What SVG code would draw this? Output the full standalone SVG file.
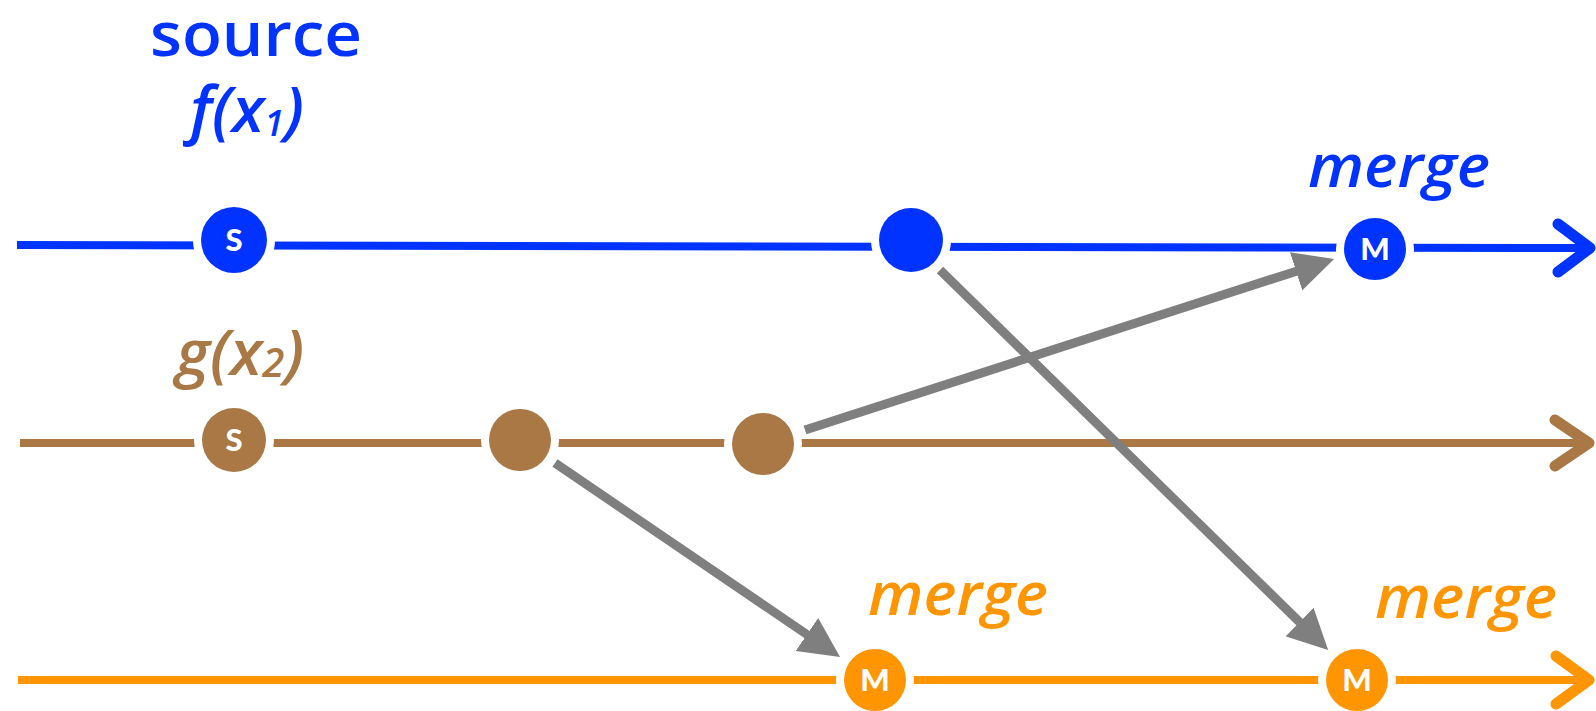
<svg xmlns="http://www.w3.org/2000/svg" width="1596" height="711" viewBox="0 0 1596 711">
  <style>
    .lbl { font-family: "Open Sans", Lato, "Liberation Sans", sans-serif; font-weight: 600; }
    .it { font-style: italic; }
    .blue { fill: #0033ff; }
    .brown { fill: #a97844; }
    .orange { fill: #ff9500; }
    .track { fill: none; stroke-width: 8; stroke-linecap: butt; }
    .head { fill: none; stroke-width: 11; stroke-linecap: round; stroke-linejoin: round; }
    .dot { stroke: #ffffff; stroke-width: 16; paint-order: stroke; }
    .tag { font-family: Lato, "Liberation Sans", sans-serif; font-weight: 900; font-size: 31px; fill: #ffffff; text-anchor: middle; }
    .link { stroke: #7f7f7f; stroke-width: 9; fill: none; marker-end: url(#tip); }
  </style>
  <defs>
    <marker id="tip" viewBox="0 0 40 40" refX="2" refY="20" markerWidth="40" markerHeight="40" markerUnits="userSpaceOnUse" orient="auto">
      <path d="M0,0 L40,20 L0,40 z" fill="#7f7f7f"/>
    </marker>
  </defs>

  <!-- timelines -->
  <g id="timelines">
    <line class="track" x1="17" y1="245" x2="1588" y2="248" stroke="#0033ff"/>
    <polyline class="head" points="1558,224 1590,248 1558,272" stroke="#0033ff"/>
    <line class="track" x1="20" y1="443" x2="1588" y2="443" stroke="#a97844"/>
    <polyline class="head" points="1555,420 1589,443 1555,466" stroke="#a97844"/>
    <line class="track" x1="18" y1="680" x2="1588" y2="680" stroke="#ff9500"/>
    <polyline class="head" points="1556,656 1589,680 1556,704" stroke="#ff9500"/>
  </g>

  <!-- connectors between events -->
  <g id="connectors">
    <line class="link" x1="940" y1="270" x2="1301" y2="623.5"/>
    <line class="link" x1="805" y1="430" x2="1298" y2="270.7"/>
    <line class="link" x1="555" y1="463" x2="808.6" y2="635.6"/>
  </g>

  <!-- labels -->
  <g id="labels">
    <text class="lbl blue" x="256" y="56" font-size="62" text-anchor="middle" textLength="212" lengthAdjust="spacingAndGlyphs">source</text>
    <text class="lbl it blue" x="190" y="132" font-size="64">f(x<tspan font-size="36" dy="4">1</tspan><tspan dy="-4">)</tspan></text>
    <text class="lbl it brown" x="176" y="375" font-size="64">g(x<tspan font-size="40" dy="2">2</tspan><tspan dy="-2">)</tspan></text>
    <text class="lbl it blue" x="1308" y="187" font-size="60" textLength="182" lengthAdjust="spacingAndGlyphs">merge</text>
    <text class="lbl it orange" x="868" y="615" font-size="60" textLength="180" lengthAdjust="spacingAndGlyphs">merge</text>
    <text class="lbl it orange" x="1375" y="618" font-size="60" textLength="182" lengthAdjust="spacingAndGlyphs">merge</text>
  </g>

  <!-- events on the f stream -->
  <g id="f-source">
    <circle class="dot blue" cx="234" cy="240" r="33"/>
    <text class="tag" x="234" y="251">S</text>
  </g>
  <g id="f-event">
    <circle class="dot blue" cx="911" cy="240" r="32"/>
  </g>
  <g id="f-merge">
    <circle class="dot blue" cx="1375" cy="249" r="31"/>
    <text class="tag" x="1375" y="260">M</text>
  </g>

  <!-- events on the g stream -->
  <g id="g-source">
    <circle class="dot brown" cx="234" cy="440" r="32"/>
    <text class="tag" x="234" y="451">S</text>
  </g>
  <g id="g-event-1">
    <circle class="dot brown" cx="520" cy="440" r="31"/>
  </g>
  <g id="g-event-2">
    <circle class="dot brown" cx="763" cy="444" r="31"/>
  </g>

  <!-- merges on the output stream -->
  <g id="out-merge-1">
    <circle class="dot orange" cx="875" cy="680" r="31"/>
    <text class="tag" x="875" y="691">M</text>
  </g>
  <g id="out-merge-2">
    <circle class="dot orange" cx="1357" cy="680" r="31"/>
    <text class="tag" x="1357" y="691">M</text>
  </g>
</svg>
